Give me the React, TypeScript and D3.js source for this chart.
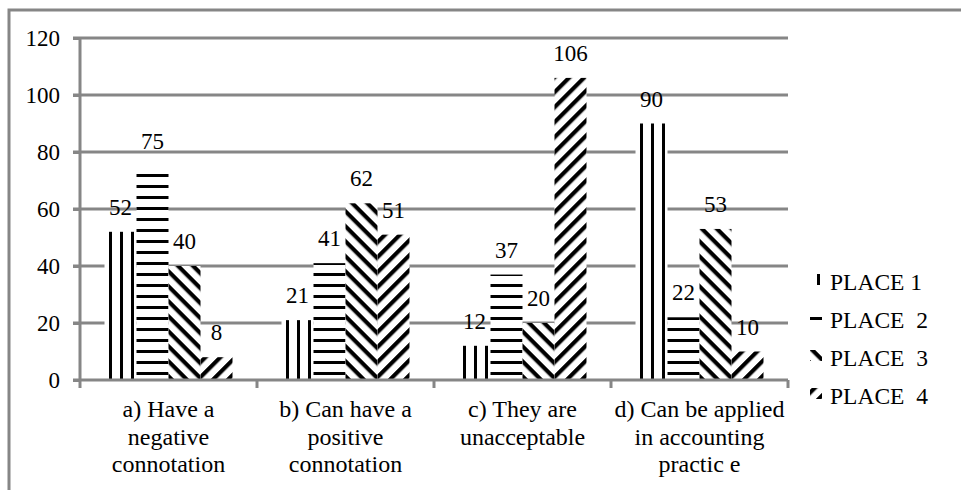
import { useRef, useEffect } from 'react';
import * as d3 from 'd3';

// Chart data
const categories = ['a', 'b', 'c', 'd'];
const categoryLines: string[][] = [
  ['a) Have a', 'negative', 'connotation'],
  ['b) Can have a', 'positive', 'connotation'],
  ['c) They are', 'unacceptable'],
  ['d) Can be applied', 'in accounting', 'practic e'],
];
const seriesNames = ['PLACE 1', 'PLACE  2', 'PLACE  3', 'PLACE  4'];
const place1 = [52, 21, 12, 90];
const place2 = [75, 41, 37, 22];
const place3 = [40, 62, 20, 53];
const place4 = [8, 51, 106, 10];
const yTicks = [0, 20, 40, 60, 80, 100, 120];

const WIDTH = 961;
const HEIGHT = 490;
const GRID = '#868686';
const FONT = 'Liberation Serif, Tinos, Times New Roman, Times, DejaVu Serif, serif';

export default function App() {
  const svgRef = useRef<SVGSVGElement>(null);

  useEffect(() => {
    if (!svgRef.current) return;
    const svg = d3.select(svgRef.current);
    svg.selectAll('*').remove();

    const series = [place1, place2, place3, place4];
    const margin = { left: 80, right: 173, top: 38, bottom: 110 };

    const x0 = d3.scaleBand<string>()
      .domain(categories)
      .range([margin.left, WIDTH - margin.right])
      .paddingInner(0)
      .paddingOuter(0);

    const x1 = d3.scaleBand<number>()
      .domain(d3.range(series.length))
      .range([0, x0.bandwidth()])
      .paddingInner(0)
      .paddingOuter(0.766);

    const y = d3.scaleLinear()
      .domain([0, 120])
      .range([HEIGHT - margin.bottom, margin.top]);

    // Patterns
    const defs = svg.append('defs');
    const vert = defs.append('pattern')
      .attr('id', 'pat0').attr('patternUnits', 'userSpaceOnUse')
      .attr('x', 7).attr('y', 0).attr('width', 11).attr('height', 11);
    vert.append('rect').attr('width', 3).attr('height', 11).attr('fill', '#000');

    const horiz = defs.append('pattern')
      .attr('id', 'pat1').attr('patternUnits', 'userSpaceOnUse')
      .attr('x', 0).attr('y', 9).attr('width', 11).attr('height', 11);
    horiz.append('rect').attr('width', 11).attr('height', 3).attr('fill', '#000');

    const down = defs.append('pattern')
      .attr('id', 'pat2').attr('patternUnits', 'userSpaceOnUse')
      .attr('width', 10.6).attr('height', 10.6)
      .attr('patternTransform', 'rotate(45)');
    down.append('rect').attr('width', 10.6).attr('height', 4.2).attr('fill', '#000');

    const up = defs.append('pattern')
      .attr('id', 'pat3').attr('patternUnits', 'userSpaceOnUse')
      .attr('width', 10.6).attr('height', 10.6)
      .attr('patternTransform', 'rotate(-45)');
    up.append('rect').attr('width', 10.6).attr('height', 4.2).attr('fill', '#000');

    // Outer chart border (extends past the window)
    svg.append('rect')
      .attr('x', 9).attr('y', 10)
      .attr('width', 1000).attr('height', 600)
      .attr('fill', 'none')
      .attr('stroke', GRID)
      .attr('stroke-width', 3);

    const x0Start = margin.left;
    const x0End = WIDTH - margin.right;

    // Gridlines
    svg.append('g')
      .selectAll('line')
      .data(yTicks.filter(t => t > 0))
      .join('line')
      .attr('x1', x0Start - 7)
      .attr('x2', x0End)
      .attr('y1', d => y(d))
      .attr('y2', d => y(d))
      .attr('stroke', GRID)
      .attr('stroke-width', 3);

    // Bars
    const groups = svg.append('g')
      .selectAll('g')
      .data(categories)
      .join('g')
      .attr('transform', d => `translate(${x0(d)},0)`);

    series.forEach((vals, si) => {
      groups.append('rect')
        .attr('x', () => x1(si)!)
        .attr('y', (_, ci) => y(vals[ci]))
        .attr('width', x1.bandwidth())
        .attr('height', (_, ci) => y(0) - y(vals[ci]))
        .attr('fill', '#fff');
      groups.append('rect')
        .attr('x', () => x1(si)!)
        .attr('y', (_, ci) => y(vals[ci]))
        .attr('width', x1.bandwidth())
        .attr('height', (_, ci) => y(0) - y(vals[ci]))
        .attr('fill', `url(#pat${si})`);
    });

    // Y axis
    const yAxis = d3.axisLeft(y)
      .tickValues(yTicks)
      .tickSize(7)
      .tickPadding(13);
    const yg = svg.append('g')
      .attr('transform', `translate(${x0Start},0)`)
      .call(yAxis);
    yg.select('.domain').attr('stroke', GRID).attr('stroke-width', 3)
      .attr('d', `M0,${y(120)}V${y(0)}`);
    yg.selectAll('.tick line').attr('stroke', GRID).attr('stroke-width', 3);
    yg.selectAll('.tick text')
      .attr('fill', '#000')
      .attr('font-size', '23px')
      .attr('font-family', FONT);

    // X axis
    const xg = svg.append('g');
    xg.append('line')
      .attr('x1', x0Start - 7).attr('x2', x0End)
      .attr('y1', y(0)).attr('y2', y(0))
      .attr('stroke', GRID).attr('stroke-width', 3);
    const bounds = categories.map(c => x0(c)!).concat([x0End]);
    xg.selectAll('line.tk')
      .data(bounds)
      .join('line')
      .attr('class', 'tk')
      .attr('x1', d => d).attr('x2', d => d)
      .attr('y1', y(0)).attr('y2', y(0) + 8)
      .attr('stroke', GRID).attr('stroke-width', 3);

    // Category labels
    categories.forEach((c, ci) => {
      const cx = x0(c)! + x0.bandwidth() / 2;
      const t = svg.append('text')
        .attr('text-anchor', 'middle')
        .attr('font-size', '24px')
        .attr('font-family', FONT)
        .attr('fill', '#000');
      categoryLines[ci].forEach((line, li) => {
        t.append('tspan')
          .attr('x', cx)
          .attr('y', 417 + li * 27.5)
          .text(line);
      });
    });

    // Value labels
    series.forEach((vals, si) => {
      groups.append('text')
        .attr('x', () => x1(si)! + x1.bandwidth() / 2)
        .attr('y', (_, ci) => y(vals[ci]) - 17)
        .attr('text-anchor', 'middle')
        .attr('font-size', '23px')
        .attr('font-family', FONT)
        .attr('fill', '#000')
        .text((_, ci) => String(vals[ci]));
    });

    // Legend
    const legend = svg.append('g').attr('transform', 'translate(810,0)');
    seriesNames.forEach((name, si) => {
      const base = 290 + si * 38;
      legend.append('rect')
        .attr('x', 0).attr('y', base - 16)
        .attr('width', 12).attr('height', 11)
        .attr('fill', `url(#pat${si})`);
      legend.append('text')
        .attr('x', 20).attr('y', base)
        .attr('font-size', '23.5px')
        .attr('font-family', FONT)
        .attr('fill', '#000')
        .style('white-space', 'pre')
        .text(name);
    });
  }, []);

  return (
    <svg
      ref={svgRef}
      width={WIDTH}
      height={HEIGHT}
      style={{ position: 'absolute', left: 0, top: 0, background: '#fff' }}
    />
  );
}
